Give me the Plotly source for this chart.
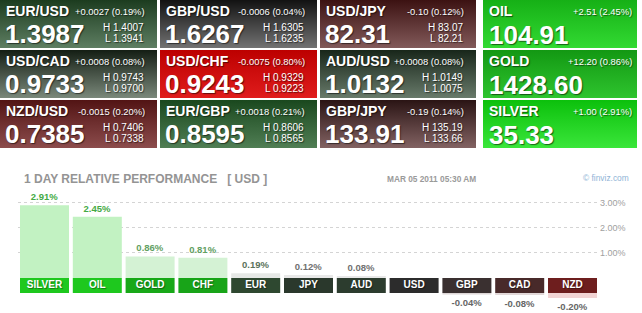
import plotly.graph_objects as go

W, H = 642, 313

# ---------------- data ----------------
fx_pairs = ["EUR/USD", "GBP/USD", "USD/JPY",
            "USD/CAD", "USD/CHF", "AUD/USD",
            "NZD/USD", "EUR/GBP", "GBP/JPY"]
fx_last = ["1.3987", "1.6267", "82.31",
           "0.9733", "0.9243", "1.0132",
           "0.7385", "0.8595", "133.91"]
fx_change = ["+0.0027 (0.19%)", "-0.0006 (0.04%)", "-0.10 (0.12%)",
             "+0.0008 (0.08%)", "-0.0075 (0.80%)", "+0.0008 (0.08%)",
             "-0.0015 (0.20%)", "+0.0018 (0.21%)", "-0.19 (0.14%)"]
fx_high = ["1.4007", "1.6305", "83.07",
           "0.9743", "0.9329", "1.0149",
           "0.7406", "0.8606", "135.19"]
fx_low = ["1.3941", "1.6235", "82.21",
          "0.9700", "0.9223", "1.0075",
          "0.7338", "0.8565", "133.66"]

cmd_names = ["OIL", "GOLD", "SILVER"]
cmd_last = ["104.91", "1428.60", "35.33"]
cmd_change = ["+2.51 (2.45%)", "+12.20 (0.86%)", "+1.00 (2.91%)"]

perf_labels = ["SILVER", "OIL", "GOLD", "CHF", "EUR", "JPY",
               "AUD", "USD", "GBP", "CAD", "NZD"]
perf_values = [2.91, 2.45, 0.86, 0.81, 0.19, 0.12,
               0.08, 0.00, -0.04, -0.08, -0.20]
perf_ticks = [1, 2, 3]
perf_ticktext = ["1.00%", "2.00%", "3.00%"]

title_text = "1 DAY RELATIVE PERFORMANCE\u00a0\u00a0\u00a0[ USD ]"
date_text = "MAR 05 2011 05:30 AM"
credit_text = "\u00a9 finviz.com"

# ---------------- styles ----------------
FONT = "Arial, Liberation Sans, sans-serif"
tile_colors = {  # (top, bottom)
    "EUR/USD": ("#1c3c1f", "#5e7e62"),
    "GBP/USD": ("#121212", "#727272"),
    "USD/JPY": ("#3c1212", "#825a5a"),
    "USD/CAD": ("#141e14", "#7a887a"),
    "USD/CHF": ("#bc0000", "#e01c1c"),
    "AUD/USD": ("#18261a", "#687a6a"),
    "NZD/USD": ("#521414", "#8c4c4c"),
    "EUR/GBP": ("#1a481e", "#507e54"),
    "GBP/JPY": ("#2a1414", "#826262"),
    "OIL": ("#16b016", "#32da32"),
    "GOLD": ("#139813", "#2ec42e"),
    "SILVER": ("#0cc00c", "#3ae63a"),
}
box_colors = ["#1ec81e", "#1ec81e", "#18a818", "#18a418", "#2e4830", "#2a382c",
              "#2c3c2e", "#2c2c2c", "#3a3030", "#482a2a", "#6e1e1e"]
pos_bar_colors = ["#c2f2c2", "#c2f2c2", "#d4f2d4", "#d4f2d4", "#e6e8e6", "#e8e8e8",
                  "#e8e8e8", "#e8e8e8", "#e8e8e8", "#e8e8e8", "#e8e8e8"]
neg_bar_colors = ["#eeeeee"] * 8 + ["#ddd6d6", "#e2d8d8", "#f2d4d4"]
val_colors = ["#44aa44", "#44aa44", "#62a062", "#62a062", "#5a725a", "#707070",
              "#707070", "#707070", "#666666", "#666666", "#666666"]

col_left = [0, 160, 320, 483]
col_right = [157, 317, 476, 637]
row_top = [0, 50, 100]
row_bot = [48, 98, 148]

SHADOW = "1px 1px 1px rgba(0,0,0,0.55)"

fig = go.Figure()
annotations = []


def ann(x, y, text, size, color="white", weight=400, xanchor="left", shadow=SHADOW):
    annotations.append(dict(
        x=x, y=y, xref="x2", yref="y2", text=text, showarrow=False,
        xanchor=xanchor, yanchor="middle",
        font=dict(family=FONT, size=size, color=color, weight=weight, shadow=shadow)))


def tile(l, r, t, b, name):
    top_c, bot_c = tile_colors[name]
    fig.add_trace(go.Scatter(
        x=[l, r, r, l, l], y=[t, t, b, b, t], xaxis="x2", yaxis="y2",
        mode="lines", line=dict(width=0), fill="toself",
        fillgradient=dict(type="vertical", colorscale=[[0, top_c], [1, bot_c]],
                          start=t, stop=b),
        hoverinfo="skip", showlegend=False))


# forex tiles
for i, name in enumerate(fx_pairs):
    r_, c_ = divmod(i, 3)
    l, r, t, b = col_left[c_], col_right[c_], row_top[r_], row_bot[r_]
    tile(l, r, t, b, name)
    ann(l + 4, t + 11, name, 14, weight=700)
    ann(r - 10, t + 11, fx_change[i], 9.4, xanchor="right")
    ann(l + 3, t + 34, fx_last[i], 26, weight=700)
    ann(r - 11, t + 27, "H " + fx_high[i], 10, xanchor="right")
    ann(r - 11, t + 38.5, "L " + fx_low[i], 10, xanchor="right")

# commodity tiles
for i, name in enumerate(cmd_names):
    l, r, t, b = col_left[3], col_right[3], row_top[i], row_bot[i]
    tile(l, r, t, b, name)
    ann(l + 4, t + 11, name, 14, weight=700)
    ann(r - 3, t + 11, cmd_change[i], 9.4, xanchor="right")
    ann(l + 4, t + 35, cmd_last[i], 26, weight=700)

# chart header
ann(22, 179, title_text, 12, color="#949494", weight=700, shadow="none")
ann(385, 179, date_text, 8.3, color="#9a9a9a", weight=700, shadow="none")
ann(581, 178, credit_text, 8.4, color="#8fb4d6", shadow="none")

# ---------------- performance bars ----------------
pos_y = [v if v > 0 else None for v in perf_values]
pos_text = [f"{v:.2f}%" if v > 0 else "" for v in perf_values]
neg_y = [v if v < 0 else None for v in perf_values]
neg_text = [f"{v:.2f}%" if v < 0 else "" for v in perf_values]
BOX = 0.6  # label box height in axis units

fig.add_trace(go.Bar(
    x=perf_labels, y=pos_y, base=0, marker=dict(color=pos_bar_colors, line=dict(width=0)),
    text=pos_text, textposition="outside", cliponaxis=False,
    textfont=dict(family=FONT, size=9.5, color=val_colors, weight=700),
    hoverinfo="skip", showlegend=False))
fig.add_trace(go.Bar(
    x=perf_labels, y=neg_y, base=-BOX, marker=dict(color=neg_bar_colors, line=dict(width=0)),
    text=neg_text, textposition="outside", cliponaxis=False,
    textfont=dict(family=FONT, size=9.5, color=val_colors, weight=700),
    hoverinfo="skip", showlegend=False))
fig.add_trace(go.Bar(
    x=perf_labels, y=[BOX] * len(perf_labels), base=-BOX,
    marker=dict(color=box_colors, line=dict(width=0)),
    hoverinfo="skip", showlegend=False))
fig.add_trace(go.Scatter(
    x=perf_labels, y=[-BOX / 2] * len(perf_labels), mode="text", text=perf_labels,
    textposition="middle center", cliponaxis=False,
    textfont=dict(family=FONT, size=10, color="white", weight=700,
                  shadow="1px 1px 1px rgba(0,0,0,0.4)"),
    hoverinfo="skip", showlegend=False))

fig.update_layout(
    width=W, height=H, margin=dict(l=0, r=0, t=0, b=0, pad=0),
    paper_bgcolor="white", plot_bgcolor="rgba(0,0,0,0)",
    barmode="overlay", bargap=0.072, showlegend=False,
    annotations=annotations,
    xaxis=dict(type="category", domain=[18.1 / W, 598.9 / W], range=[-0.5, 10.5],
               showticklabels=False, showgrid=False, zeroline=False, showline=False,
               fixedrange=True),
    yaxis=dict(domain=[0, 0.3754], range=[-1.4, 3.3], side="right",
               tickvals=perf_ticks, ticktext=perf_ticktext, ticks="",
               showgrid=True, gridcolor="#d4d4d4", griddash="dot", gridwidth=1,
               zeroline=False, showline=False, fixedrange=True,
               tickfont=dict(family=FONT, size=9, color="#a0a0a0")),
    xaxis2=dict(domain=[0, 1], range=[0, W], visible=False, anchor="y2", fixedrange=True),
    yaxis2=dict(domain=[0, 1], range=[H, 0], visible=False, anchor="x2", fixedrange=True),
)

fig.write_html("out.html")
